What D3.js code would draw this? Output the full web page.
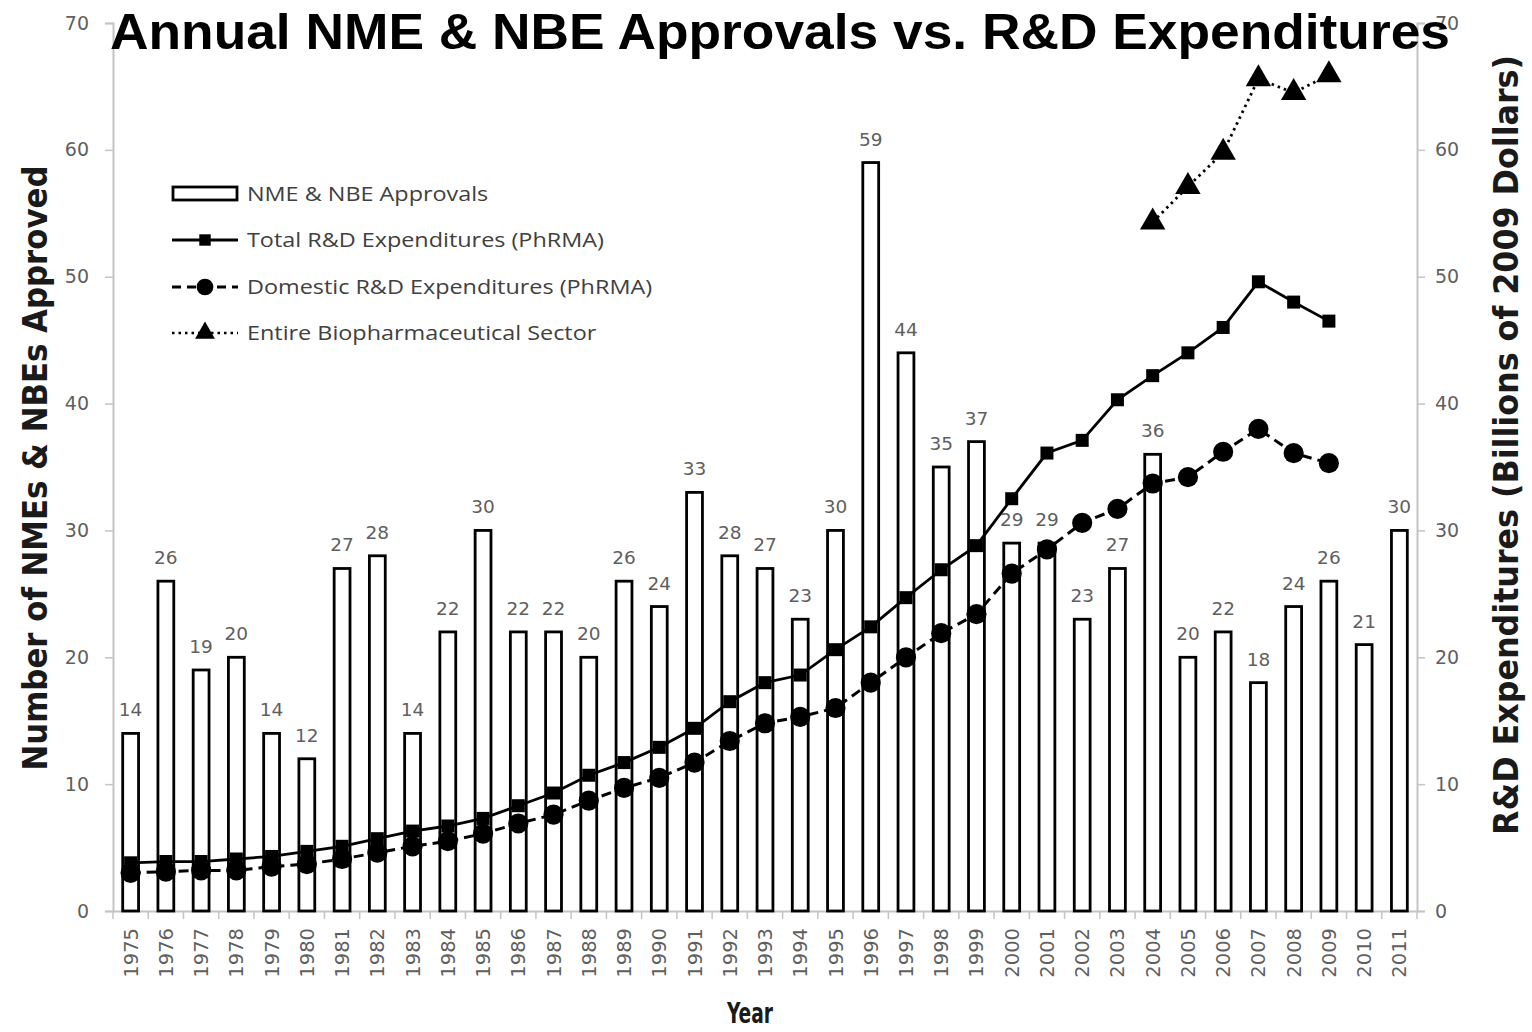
<!DOCTYPE html>
<html><head><meta charset="utf-8">
<script src="https://cdn.jsdelivr.net/npm/d3@7"></script>
<style>body{margin:0;background:#fff}svg{display:block}</style>
</head><body>
<svg id="c" width="1532" height="1032"></svg>
<script>
const years = d3.range(1975, 2012);
const approvals = [14,26,19,20,14,12,27,28,14,22,30,22,22,20,26,24,33,28,27,23,30,59,44,35,37,29,29,23,27,36,20,22,18,24,26,21,30];
const rdYears = d3.range(1975, 2010);
const totalRD = [3.8,3.9,3.9,4.1,4.3,4.7,5.1,5.7,6.3,6.7,7.3,8.3,9.3,10.7,11.7,12.9,14.4,16.5,18.0,18.6,20.6,22.4,24.7,26.9,28.8,32.5,36.1,37.1,40.3,42.2,44.0,46.0,49.6,48.0,46.5];
const domesticRD = [3.0,3.1,3.2,3.2,3.5,3.7,4.1,4.6,5.1,5.5,6.1,6.9,7.6,8.7,9.7,10.5,11.7,13.4,14.8,15.3,16.0,18.0,20.0,21.9,23.4,26.6,28.5,30.6,31.7,33.7,34.2,36.2,38.0,36.1,35.3];
const bioYears = [2004,2005,2006,2007,2008,2009];
const bioRD = [54.3,57.1,59.8,65.6,64.5,65.9];
const yTicks = [0,10,20,30,40,50,60,70];
const legendLabels = ["NME & NBE Approvals","Total R&D Expenditures (PhRMA)","Domestic R&D Expenditures (PhRMA)","Entire Biopharmaceutical Sector"];

const svg = d3.select("#c");
const L = 113, R = 1417, T = 23, B = 911;
const x = d3.scaleBand().domain(years).range([L, R]).paddingInner(0.55).paddingOuter(0.275);
const yL = d3.scaleLinear().domain([0,70]).range([B,T]);
const yR = d3.scaleLinear().domain([0,70]).range([B,T]);
const cx = yr => x(yr) + x.bandwidth()/2;
const numFont = "'DejaVu Sans', sans-serif";
const gray = "#5f5f5f";
const axisCol = "#c4c4c4";

// axes
const axL = svg.append("g").attr("transform",`translate(${L},0)`).call(d3.axisLeft(yL).tickValues(yTicks).tickSize(8).tickPadding(16));
const axR = svg.append("g").attr("transform",`translate(${R},0)`).call(d3.axisRight(yR).tickValues(yTicks).tickSize(8).tickPadding(10));
const axB = svg.append("g").attr("transform",`translate(0,${B})`).call(d3.axisBottom(x).tickSize(0).tickPadding(10));
[axL,axR,axB].forEach(a=>{
  a.selectAll("path").attr("stroke",axisCol).attr("stroke-width",2);
  a.selectAll("line").attr("stroke",axisCol).attr("stroke-width",1.5);
  a.selectAll("text").attr("fill",gray).style("font-family",numFont).style("font-size","19px");
});
axB.selectAll("text").attr("transform","rotate(-90)").attr("text-anchor","end").attr("dx","-17").attr("dy","0.36em").attr("x",0).attr("y",0).style("font-size","19.5px");
// bottom minor ticks at band boundaries
axB.selectAll(".sep").data(d3.range(years.length+1)).enter().append("line")
  .attr("x1",i=>L + i*x.step()).attr("x2",i=>L + i*x.step()).attr("y1",0).attr("y2",8)
  .attr("stroke",axisCol).attr("stroke-width",1.5);

// bars
svg.append("g").selectAll("rect").data(years).enter().append("rect")
  .attr("x",d=>x(d)).attr("width",x.bandwidth())
  .attr("y",(d,i)=>yL(approvals[i])).attr("height",(d,i)=>B-yL(approvals[i]))
  .attr("fill","#fff").attr("stroke","#000").attr("stroke-width",2.8);
svg.append("g").selectAll("text").data(years).enter().append("text")
  .attr("x",d=>cx(d)).attr("y",(d,i)=>yL(approvals[i])-17)
  .attr("text-anchor","middle").attr("fill",gray)
  .style("font-family",numFont).style("font-size","18.5px")
  .text((d,i)=>approvals[i]);

// lines
const line = d3.line().x(d=>cx(d[0])).y(d=>yR(d[1]));
const totalData = rdYears.map((yr,i)=>[yr,totalRD[i]]);
const domData = rdYears.map((yr,i)=>[yr,domesticRD[i]]);
const bioData = bioYears.map((yr,i)=>[yr,bioRD[i]]);
svg.append("path").datum(totalData).attr("d",line).attr("fill","none").attr("stroke","#000").attr("stroke-width",2.8);
svg.append("path").datum(domData).attr("d",line).attr("fill","none").attr("stroke","#000").attr("stroke-width",3).attr("stroke-dasharray","10,6");
svg.append("path").datum(bioData).attr("d",line).attr("fill","none").attr("stroke","#000").attr("stroke-width",2.8).attr("stroke-dasharray","2.5,4");
const sq = d3.symbol().type(d3.symbolSquare).size(169);
const ci = d3.symbol().type(d3.symbolCircle).size(320);
const tr = d3.symbol().type(d3.symbolTriangle).size(280);
svg.append("g").selectAll("path").data(totalData).enter().append("path").attr("d",sq).attr("transform",d=>`translate(${cx(d[0])},${yR(d[1])})`);
svg.append("g").selectAll("path").data(domData).enter().append("path").attr("d",ci).attr("transform",d=>`translate(${cx(d[0])},${yR(d[1])})`);
svg.append("g").selectAll("path").data(bioData).enter().append("path").attr("d",tr).attr("transform",d=>`translate(${cx(d[0])},${yR(d[1])})`);

// legend
const lg = svg.append("g");
const rowsY = [194,240,287,333];
lg.append("rect").attr("x",173).attr("y",187).attr("width",64).attr("height",13).attr("fill","#fff").attr("stroke","#000").attr("stroke-width",2.8);
lg.append("line").attr("x1",172).attr("x2",238).attr("y1",rowsY[1]).attr("y2",rowsY[1]).attr("stroke","#000").attr("stroke-width",2.8);
lg.append("path").attr("d",d3.symbol().type(d3.symbolSquare).size(130)).attr("transform",`translate(205,${rowsY[1]})`);
lg.append("line").attr("x1",172).attr("x2",238).attr("y1",rowsY[2]).attr("y2",rowsY[2]).attr("stroke","#000").attr("stroke-width",3).attr("stroke-dasharray","9,6");
lg.append("path").attr("d",d3.symbol().type(d3.symbolCircle).size(220)).attr("transform",`translate(205,${rowsY[2]})`);
lg.append("line").attr("x1",172).attr("x2",238).attr("y1",rowsY[3]).attr("y2",rowsY[3]).attr("stroke","#000").attr("stroke-width",2.5).attr("stroke-dasharray","2.5,4");
lg.append("path").attr("d",d3.symbol().type(d3.symbolTriangle).size(170)).attr("transform",`translate(205,${rowsY[3]})`);
const lgText = lg.append("g").attr("transform","translate(247,0) scale(1.2,1)");
lgText.selectAll("text").data(legendLabels).enter().append("text")
  .attr("x",0).attr("y",(d,i)=>rowsY[i]).attr("dy","0.35em")
  .attr("fill","#404040").style("font-family","'Open Sans', sans-serif").style("font-size","19.5px").text(d=>d);

// titles
svg.append("text").attr("x",780).attr("y",49).attr("text-anchor","middle")
  .style("font-family","'Liberation Sans', Arial, sans-serif").style("font-weight","bold").style("font-size","50px")
  .attr("textLength",1340).attr("lengthAdjust","spacingAndGlyphs")
  .text("Annual NME & NBE Approvals vs. R&D Expenditures");
svg.append("text").attr("transform","translate(47,468) rotate(-90)").attr("text-anchor","middle")
  .style("font-family","'DejaVu Sans Condensed','DejaVu Sans',sans-serif").style("font-weight","bold").style("font-size","33px")
  .attr("fill","#1a1a1a").attr("textLength",605).attr("lengthAdjust","spacingAndGlyphs")
  .text("Number of NMEs & NBEs Approved");
svg.append("text").attr("transform","translate(1518,445) rotate(-90)").attr("text-anchor","middle")
  .style("font-family","'DejaVu Sans Condensed','DejaVu Sans',sans-serif").style("font-weight","bold").style("font-size","33px")
  .attr("fill","#1a1a1a").attr("textLength",780).attr("lengthAdjust","spacingAndGlyphs")
  .text("R&D Expenditures (Billions of 2009 Dollars)");
svg.append("text").attr("x",750).attr("y",1023).attr("text-anchor","middle")
  .style("font-family","'DejaVu Sans Condensed','DejaVu Sans',sans-serif").style("font-weight","bold").style("font-size","29px")
  .attr("fill","#1a1a1a").attr("textLength",46).attr("lengthAdjust","spacingAndGlyphs").text("Year");
</script>
</body></html>
